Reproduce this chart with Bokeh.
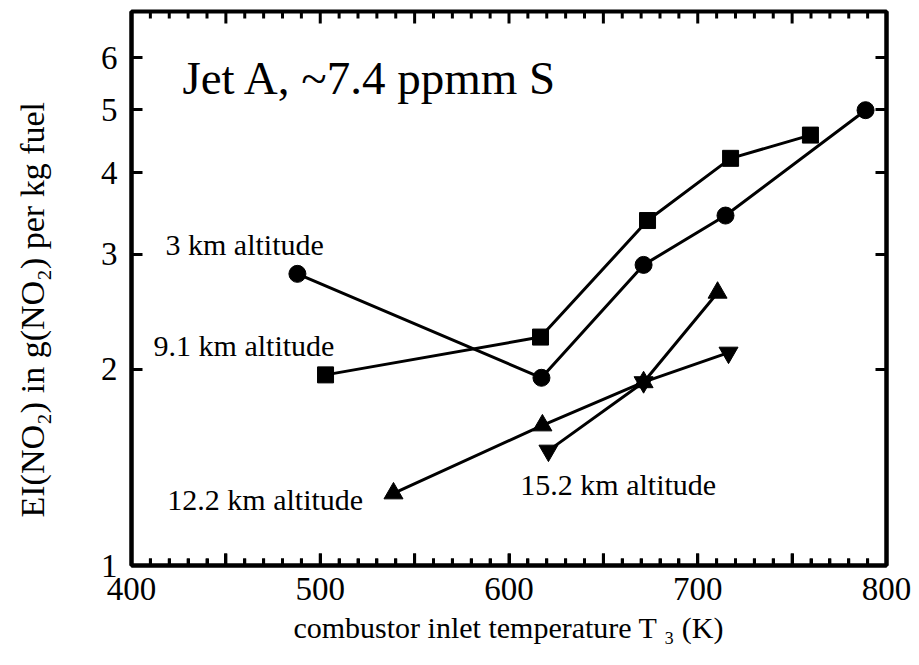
import math
from bokeh.plotting import figure
from bokeh.models import FixedTicker, LogAxis, CustomJSTickFormatter, Label
from bokeh.embed import file_html
from bokeh.resources import INLINE

FONT = "Liberation Serif"

# data (temperature K, EI g NO2 / kg fuel)
alt3_T = [487.9, 617.2, 671.3, 714.7, 788.9]
alt3_EI = [2.80, 1.94, 2.89, 3.44, 4.99]
alt91_T = [502.8, 616.7, 673.4, 717.4, 759.7]
alt91_EI = [1.96, 2.24, 3.38, 4.21, 4.57]
alt122_T = [538.8, 617.7, 671.3, 710.5]
alt122_EI = [1.29, 1.64, 1.91, 2.62]
alt152_T = [620.9, 671.3, 716.3]
alt152_EI = [1.50, 1.91, 2.12]

x_major = [400, 450, 500, 550, 600, 650, 700, 750, 800]
x_minor = [t for t in range(400, 801, 10) if t % 50 != 0]
y_ticks = [1, 2, 3, 4, 5, 6]

X_LO, X_HI = 400, 800
Y_LO, Y_HI = 1, 7.07
FRAME_H = 554  # frame height in px
PX_PER_DECADE = FRAME_H / math.log10(Y_HI / Y_LO)
MAJ_LEN, MIN_LEN = 12, 7

p = figure(width=911, height=657, x_range=(X_LO, X_HI), y_range=(Y_LO, Y_HI),
           y_axis_type="log", output_backend="svg", toolbar_location=None,
           min_border_left=131, min_border_right=25, min_border_top=11,
           min_border_bottom=92)
p.xgrid.visible = False
p.ygrid.visible = False
p.outline_line_color = "black"
p.outline_line_width = 4

xfmt = CustomJSTickFormatter(code="return (tick % 100 === 0) ? tick.toFixed(0) : '';")
yfmt = CustomJSTickFormatter(code="return tick.toFixed(0);")
nofmt = CustomJSTickFormatter(code="return '';")


def style(ax, tick_in=11, minor_in=6):
    ax.axis_line_width = 4
    ax.axis_line_color = "black"
    ax.major_tick_in = tick_in
    ax.major_tick_out = 0
    ax.major_tick_line_width = 3
    ax.major_tick_line_color = "black"
    ax.minor_tick_in = minor_in
    ax.minor_tick_out = 0
    ax.minor_tick_line_width = 3
    ax.minor_tick_line_color = "black"
    ax.major_label_text_font = FONT
    ax.major_label_text_color = "black"
    ax.axis_label_text_font = FONT
    ax.axis_label_text_font_style = "normal"
    ax.axis_label_text_color = "black"
    ax.major_label_text_font_size = "33px"


xb = p.xaxis[0]
xb.ticker = FixedTicker(ticks=x_major, minor_ticks=x_minor)
xb.formatter = xfmt
style(xb, MAJ_LEN, MIN_LEN)
xb.major_label_standoff = 12
xb.axis_label = "combustor inlet temperature T \u2083 (K)"
xb.axis_label_text_font_size = "30px"
xb.axis_label_standoff = 8

yl = p.yaxis[0]
yl.ticker = FixedTicker(ticks=y_ticks, minor_ticks=[])
yl.formatter = yfmt
style(yl)
yl.major_label_standoff = 14
yl.axis_label = "EI(NO\u2082) in g(NO\u2082) per kg fuel" + "\u00a0" * 5
yl.axis_label_text_font_size = "34px"
yl.axis_label_standoff = 47

yr = LogAxis(ticker=FixedTicker(ticks=y_ticks, minor_ticks=[]), formatter=nofmt)
style(yr)
yr.major_label_standoff = 0
p.add_layout(yr, "right")

# inward x ticks along bottom and top edges, as thin bars just inside the frame
for length, ticks in ((MAJ_LEN, x_major), (MIN_LEN, x_minor)):
    f = 10 ** ((length / 2) / PX_PER_DECADE)
    for ycen in (Y_LO * f, Y_HI / f):
        p.rect(ticks, [ycen] * len(ticks), width=3, height=length,
               width_units="screen", height_units="screen",
               fill_color="black", line_color=None)

# series
p.line(alt3_T, alt3_EI, line_width=3, color="black")
p.scatter(alt3_T, alt3_EI, marker="circle", size=17, color="black")
p.line(alt91_T, alt91_EI, line_width=3, color="black")
p.scatter(alt91_T, alt91_EI, marker="square", size=16, color="black")
p.line(alt122_T, alt122_EI, line_width=3, color="black")
p.scatter(alt122_T, alt122_EI, marker="triangle", size=19, color="black")
p.line(alt152_T, alt152_EI, line_width=3, color="black")
p.scatter(alt152_T, alt152_EI, marker="inverted_triangle", size=19, color="black")

# annotations
labels = [
    ("Jet A, ~7.4 ppmm S", 427, 5.60, "47px"),
    ("3 km altitude", 418, 3.11, "30px"),
    ("9.1 km altitude", 411.7, 2.175, "30px"),
    ("12.2 km altitude", 419, 1.262, "30px"),
    ("15.2 km altitude", 606, 1.331, "30px"),
]
for txt, lx, ly, fs in labels:
    p.add_layout(Label(x=lx, y=ly, text=txt, text_font=FONT, text_font_size=fs,
                       text_baseline="alphabetic", text_align="left", text_color="black"))

open("out.html", "w").write(file_html(p, INLINE))
